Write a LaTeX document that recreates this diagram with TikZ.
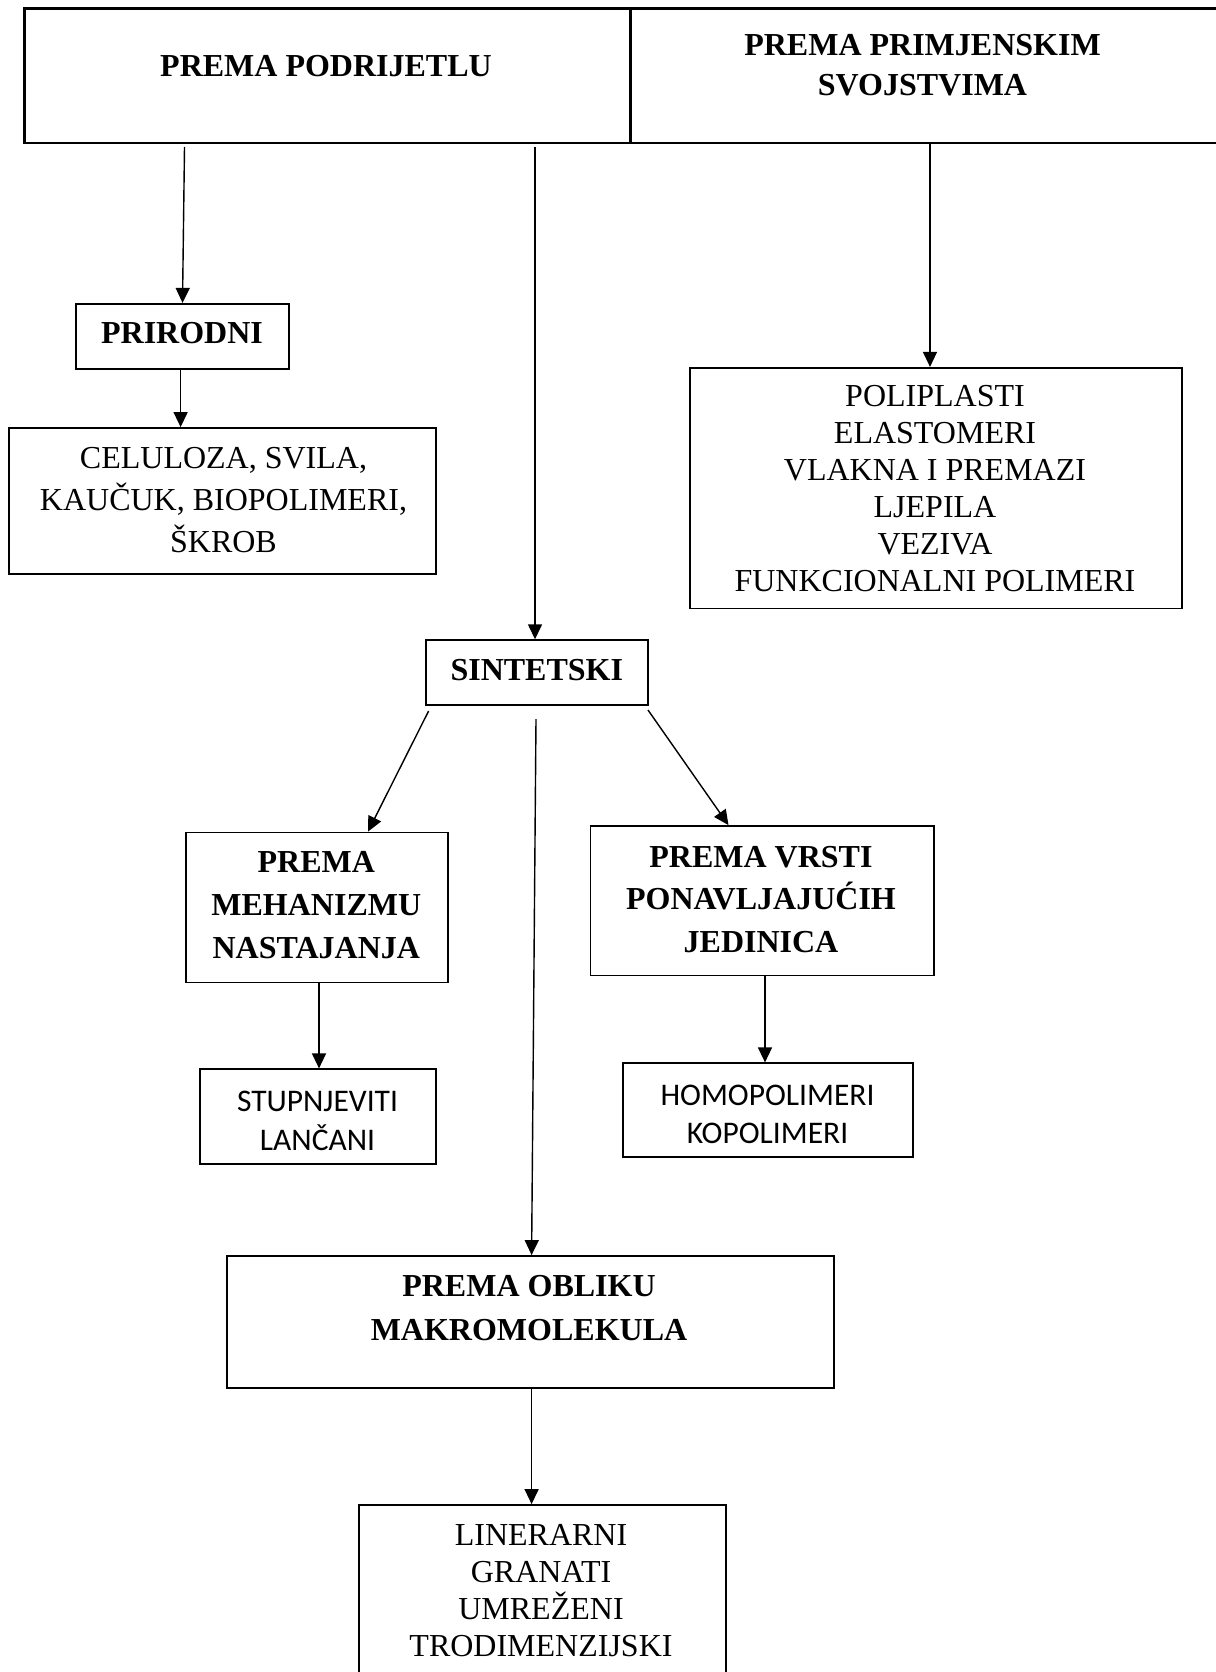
\documentclass[tikz,border=0pt]{standalone}
\usepackage{fontspec}
\setmainfont{Liberation Serif}
\newfontfamily\calib{Carlito}
\usetikzlibrary{arrows.meta}
\begin{document}
\begin{tikzpicture}[x=1pt,y=-1pt,
  box/.style={draw, line width=1.8pt, rectangle, inner sep=0pt},
  topbox/.style={draw, line width=2.8pt, rectangle, inner sep=0pt},
  tr/.style={font=\fontsize{32}{#1}\selectfont, align=center, inner sep=0pt, anchor=base},
  tr/.default=38,
  trb/.style={font=\bfseries\fontsize{32}{#1}\selectfont, align=center, inner sep=0pt, anchor=base},
  trb/.default=38,
  cb/.style={font=\calib\fontsize{31.5}{#1}\selectfont, align=center, inner sep=0pt, anchor=base},
  cb/.default=38,
  arr/.style={line width=1.4pt, -{Triangle[length=15pt,width=14pt]}}]
\useasboundingbox[fill=white] (0,0) rectangle (1215,1672);

% boxes
\node[topbox, minimum width=605.5pt, minimum height=134.5pt] (topL) at (327.25,75.75) {};
\node[topbox, minimum width=600pt, minimum height=134.5pt] (topR) at (930.25,75.75) {};
\node[box, minimum width=213pt, minimum height=64.8pt] (prir) at (182.5,336.2) {};
\node[box, minimum width=426.4pt, minimum height=146pt] (cel) at (222.5,501) {};
\node[box, minimum width=492pt, minimum height=240.6pt] (poli) at (936,488.1) {};
\node[box, minimum width=222.4pt, minimum height=64.8pt] (sint) at (536.8,672.6) {};
\node[box, minimum width=262pt, minimum height=150pt] (meh) at (317,907.5) {};
\node[box, minimum width=343.5pt, minimum height=149.5pt] (vrsti) at (762.25,900.75) {};
\node[box, minimum width=236pt, minimum height=95pt] (stup) at (318,1116.8) {};
\node[box, minimum width=290pt, minimum height=94pt] (homo) at (767.7,1110.3) {};
\node[box, minimum width=607pt, minimum height=132pt] (obl) at (530.5,1322) {};
\node[box, minimum width=366.6pt, minimum height=190pt] (lin) at (542.3,1600) {};

% texts (anchor = baseline of the last line)
\node[trb] (tL) at (326,76.6) {PREMA PODRIJETLU};
\node[trb=40.3] (tR) at (922.5,95.8) {PREMA PRIMJENSKIM\\SVOJSTVIMA};
\node[trb] (tPrir) at (182,343.7) {PRIRODNI};
\node[tr=42] (tCel) at (223.5,552.5) {CELULOZA, SVILA,\\KAUČUK, BIOPOLIMERI,\\ŠKROB};
\node[tr=36.9] (tPoli) at (935,591.3) {POLIPLASTI\\ELASTOMERI\\VLAKNA I PREMAZI\\LJEPILA\\VEZIVA\\FUNKCIONALNI POLIMERI};
\node[trb] (tSint) at (536.8,680.5) {SINTETSKI};
\node[trb=42.7] (tMeh) at (316.3,958.2) {PREMA\\MEHANIZMU\\NASTAJANJA};
\node[trb=42.7] (tVrsti) at (761,952.5) {PREMA VRSTI\\PONAVLJAJUĆIH\\JEDINICA};
\node[cb=38.5] (tStup) at (317.5,1150.2) {STUPNJEVITI\\LANČANI};
\node[cb=38.3] (tHomo) at (767.5,1143.3) {HOMOPOLIMERI\\KOPOLIMERI};
\node[trb=44] (tObl) at (529,1340) {PREMA OBLIKU\\MAKROMOLEKULA};
\node[tr=36.8] (tLin) at (541,1656) {LINERARNI\\GRANATI\\UMREŽENI\\TRODIMENZIJSKI};

% connector start points
\coordinate (a1) at (184.5,147);
\coordinate (a2) at (535,147);
\coordinate (a3) at (930,143);
\coordinate (a4) at (428.6,711);
\coordinate (a5) at (648,710);
\coordinate (a6) at (536,719);

\draw[arr] (a1) -- (prir.north);
\draw[arr] ([xshift=-1.9pt]prir.south) -- ([xshift=-1.9pt]prir.south |- cel.north);
\draw[arr] (a2) -- (a2 |- sint.north);
\draw[arr] (a3) -- (a3 |- poli.north);
\draw[arr] (a4) -- ([xshift=51pt]meh.north);
\draw[arr] (a5) -- ([xshift=-33.75pt]vrsti.north);
\draw[arr] (a6) -- ([xshift=1.1pt]obl.north);
\draw[arr] ([xshift=2pt]meh.south) -- ([xshift=2pt]meh.south |- stup.north);
\draw[arr] ([xshift=-2.7pt]homo.north |- vrsti.south) -- ([xshift=-2.7pt]homo.north);
\draw[arr] ([xshift=1.1pt]obl.south) -- ([xshift=1.1pt]obl.south |- lin.north);
\end{tikzpicture}
\end{document}
